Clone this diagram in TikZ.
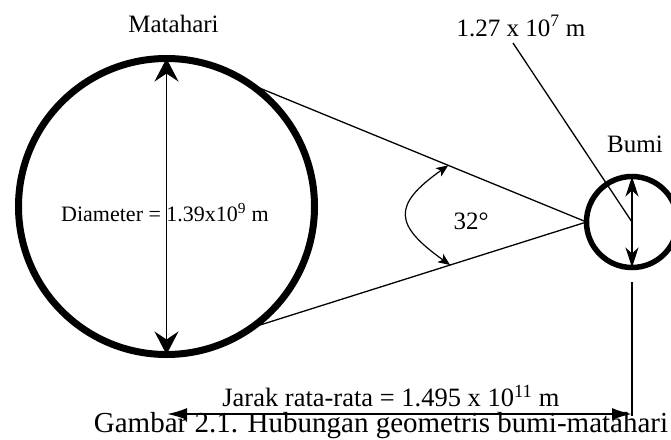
\documentclass[tikz,border=0pt]{standalone}
\usepackage{fontspec}
\setmainfont{Liberation Serif}
\usetikzlibrary{positioning, arrows.meta, calc}

\begin{document}
\begin{tikzpicture}[
    x=1pt, y=-1pt,
    body/.style={circle, draw, inner sep=0pt, outer sep=0pt},
    sun body/.style={body, minimum size=296pt, line width=7pt},
    earth body/.style={body, minimum size=91pt, line width=5.5pt},
    annot/.style={anchor=base, inner sep=0pt, font=\fontsize{25}{30}\selectfont},
    thin line/.style={line width=1.3pt},
    sun arrow/.style={{Stealth[length=23pt, width=24pt, inset=8pt]}-{Stealth[length=23pt, width=24pt, inset=8pt]}, line width=1.5pt},
    earth arrow/.style={{Stealth[length=20pt, width=13pt, inset=6pt]}-{Stealth[length=20pt, width=13pt, inset=6pt]}, line width=1.5pt},
    angle arrow/.style={{Stealth[length=12pt, width=10pt, inset=3pt]}-{Stealth[length=12pt, width=10pt, inset=3pt]}, line width=1.2pt},
    dist arrow/.style={{Latex[length=20pt, width=12pt]}-{Latex[length=20pt, width=12pt]}, line width=2pt},
]

\useasboundingbox (0,0) rectangle (671,439);

% ======= BODIES =======
\node[sun body]   (sun)   at (166.5,206.5) {};
\node[earth body] (earth) at (632,222) {};
\coordinate (apex) at (earth.west);

% ======= TANGENT LINES =======
\draw[thin line] (sun.56)  -- (apex);
\draw[thin line] (sun.-55) -- (apex);

% ======= ANGLE ARC =======
\coordinate (arcTop) at ($(sun.56)!0.59!(apex)$);
\coordinate (arcBot) at ($(sun.-55)!0.593!(apex)$);
\draw[angle arrow] (arcTop) .. controls (392,205) and (394,225) .. (arcBot);
\node[annot] (angle) at (471,229) {32°};

% ======= DIAMETERS =======
\node[annot, font=\fontsize{22}{26}\selectfont] (diam) at (165,221) {Diameter = 1.39x10\textsuperscript{9} m};
\draw[sun arrow] (sun.north) -- (sun.south);
\draw[earth arrow] (earth.north) -- (earth.south);

% ======= LABELS =======
\node[annot] (sunlbl)   at (173.5,32) {Matahari};
\node[annot] (earthlbl) at (635,152) {Bumi};
\node[annot] (radlbl)   at (521,36) {1.27 x 10\textsuperscript{7} m};
\coordinate (ptr) at (513,43);
\draw[thin line] (ptr) -- (earth.center);

% ======= DISTANCE =======
\coordinate (dropTop) at (632,282);
\coordinate (dropBot) at (632,416);
\coordinate (distL) at (167,414);
\coordinate (distR) at (632,414);
\draw[thin line] (dropTop) -- (dropBot);
\draw[dist arrow] (distL) -- (distR);
\node[annot, font=\fontsize{26.5}{30}\selectfont] (distlbl) at (391,406.5) {Jarak rata-rata = 1.495 x 10\textsuperscript{11} m};

% ======= CAPTION =======
\node[annot, font=\fontsize{29}{33}\selectfont] (caption) at (381,432.5) {Gambar 2.1. Hubungan geometris bumi-matahari};

\end{tikzpicture}
\end{document}
